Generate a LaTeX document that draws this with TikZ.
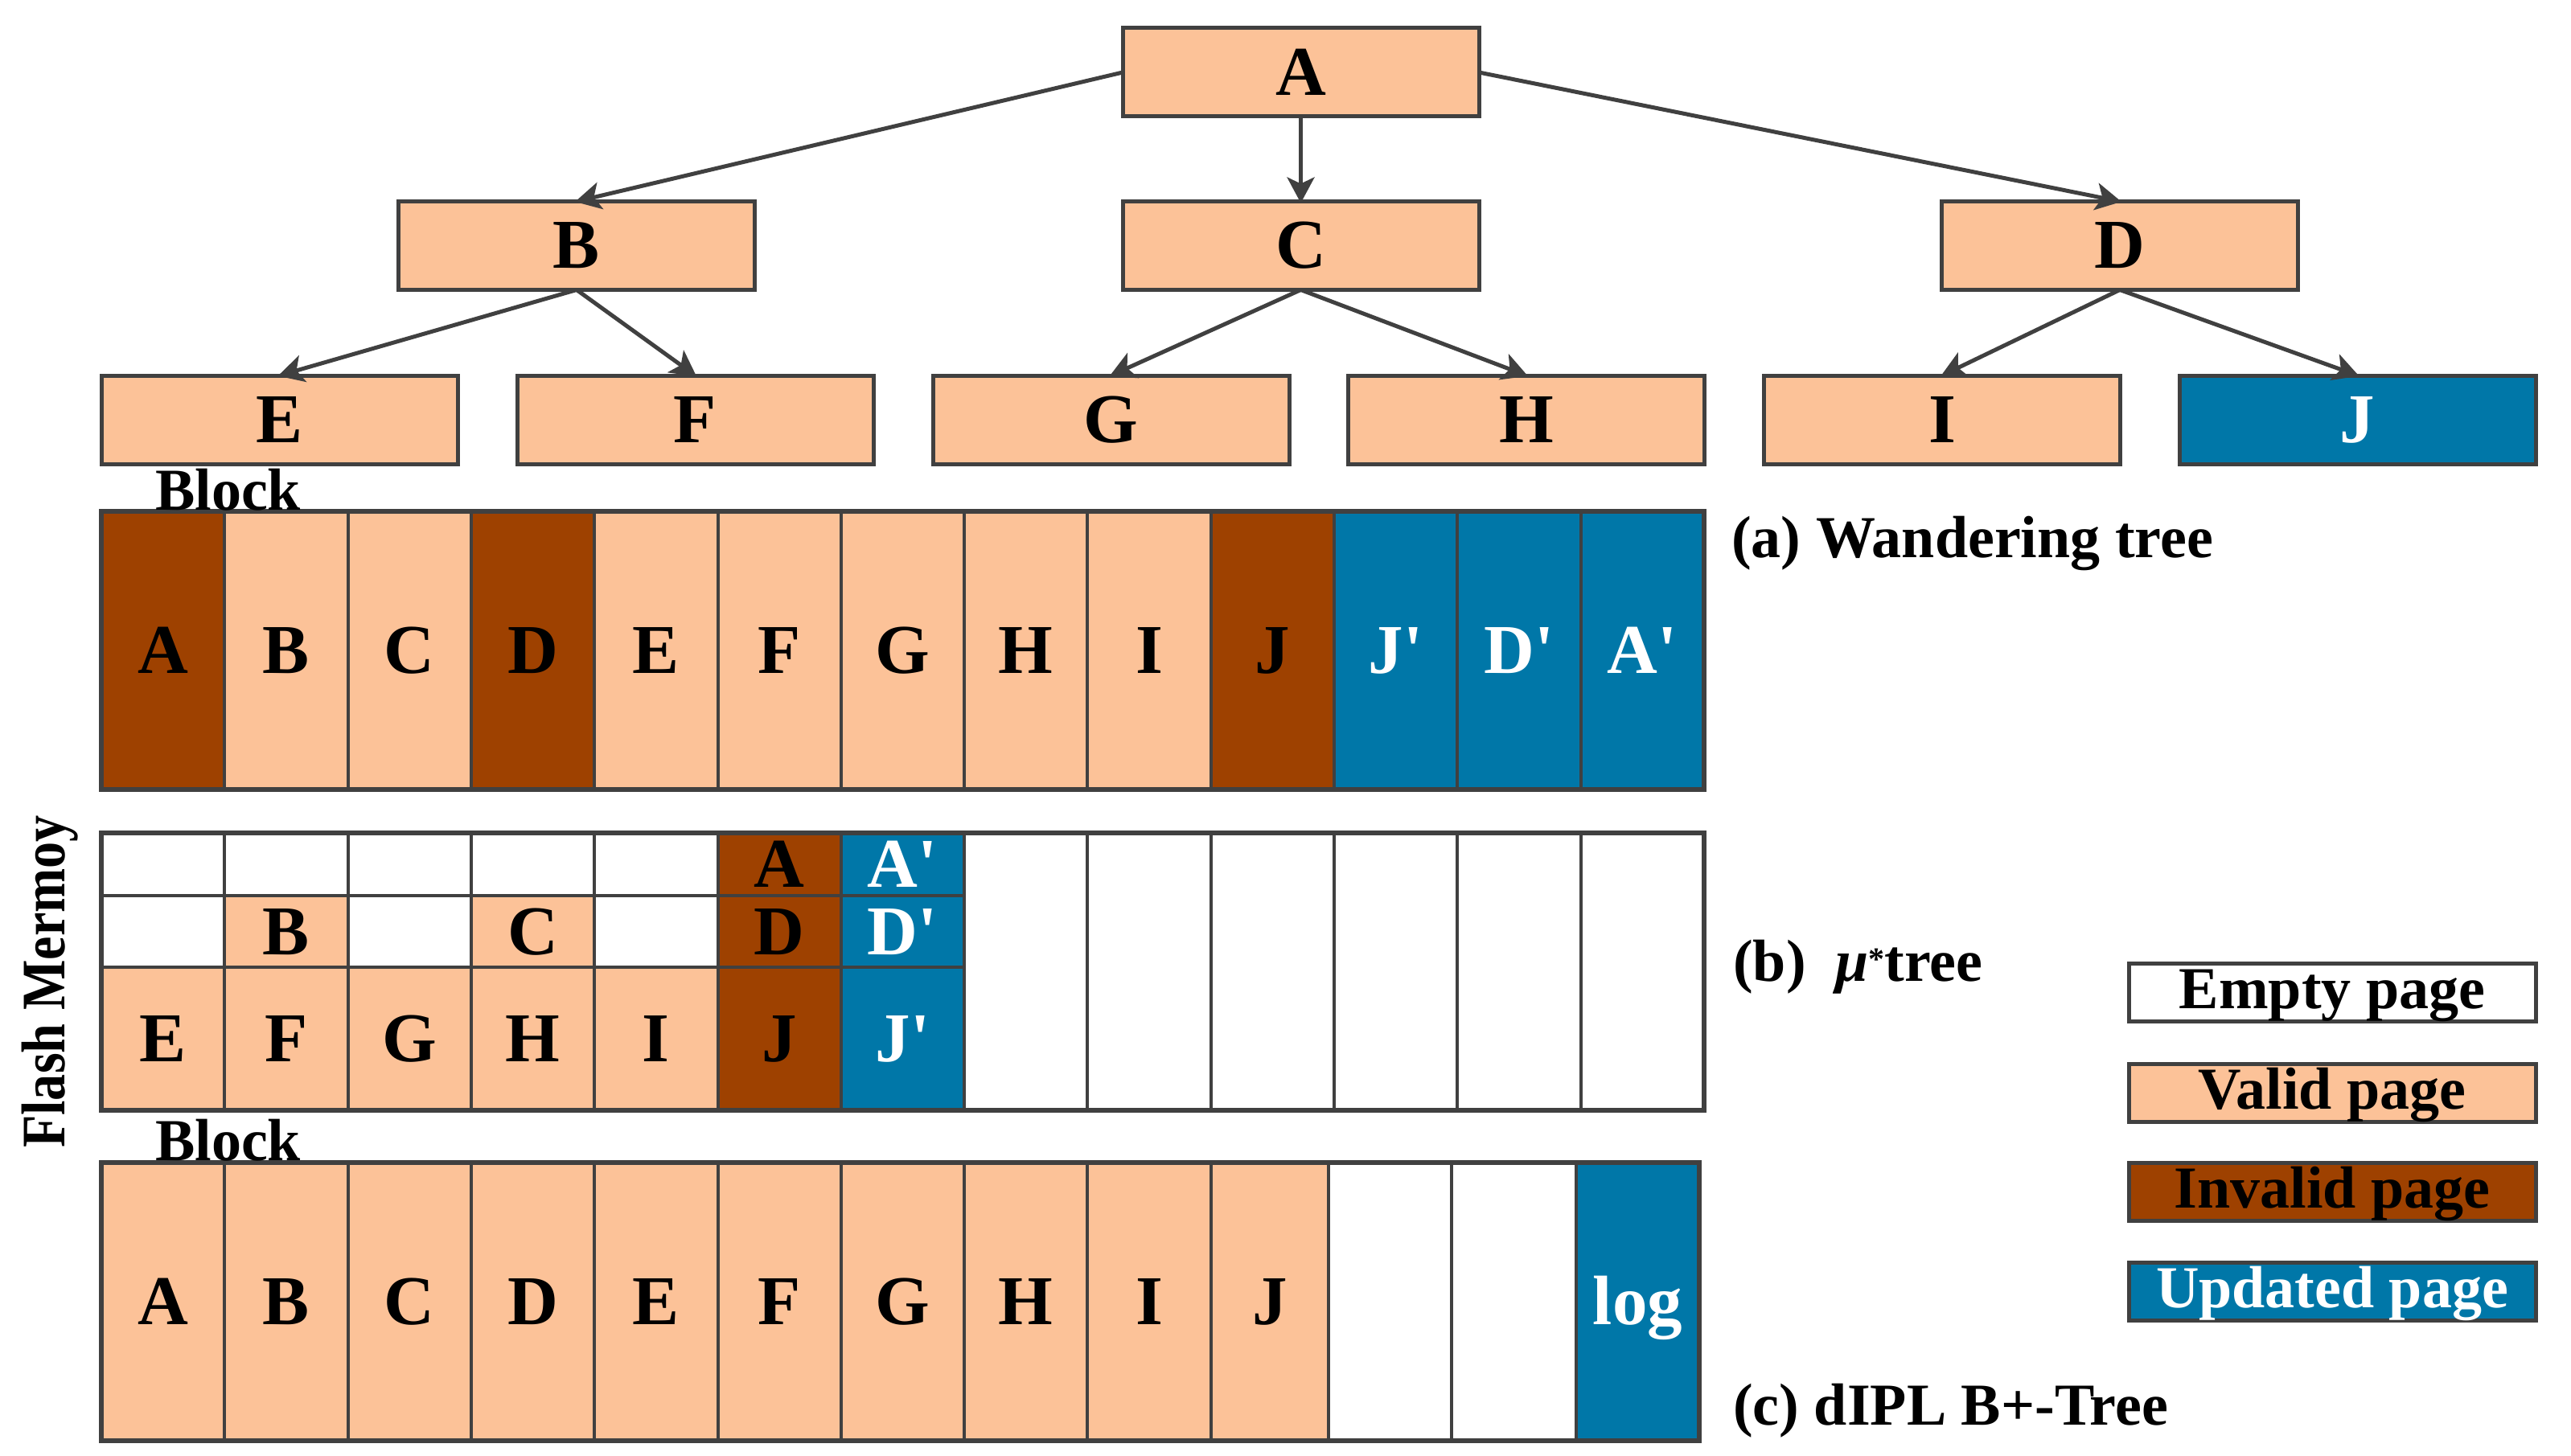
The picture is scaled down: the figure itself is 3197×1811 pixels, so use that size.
\documentclass[tikz,border=0pt]{standalone}
\usepackage{fontspec}
\setmainfont{Liberation Serif}
\usetikzlibrary{arrows.meta}
\definecolor{valid}{HTML}{FCC298}
\definecolor{invalid}{HTML}{9E4100}
\definecolor{updated}{HTML}{0077A8}
\definecolor{edge}{HTML}{404040}
\begin{document}
\begin{tikzpicture}[x=1pt,y=-1pt,
  treenode/.style={draw=edge, line width=5pt, fill=valid, minimum width=443pt, minimum height=110pt,
    inner sep=0pt, outer sep=0pt, font=\fontsize{87}{87}\selectfont\bfseries, text height=57pt, text depth=0pt},
  arr/.style={draw=edge, line width=5pt, -{Stealth[length=32pt,width=34pt,inset=8pt]}, shorten >=-2pt},
  cell/.style={draw=edge, line width=4pt, inner sep=0pt, outer sep=0pt,
    font=\fontsize{87}{87}\selectfont\bfseries, text height=57pt, text depth=0pt},
  outerb/.style={draw=edge, line width=5.5pt},
  lab/.style={font=\fontsize{74}{74}\selectfont\bfseries, inner sep=0pt, anchor=base west},
  legbox/.style={draw=edge, line width=5pt, minimum width=506pt, minimum height=72pt, inner sep=0pt,
    font=\fontsize{74}{74}\selectfont\bfseries, text height=50pt, text depth=10pt}
]
\useasboundingbox (0,0) rectangle (3197,1811);

% ---------------- tree ----------------
\node[treenode] (A) at (1617.5,90) {A};
\node[treenode] (B) at (717,305.5) {B};
\node[treenode] (C) at (1617.5,305.5) {C};
\node[treenode] (D) at (2636,305.5) {D};
\node[treenode] (E) at (347.5,522) {E};
\node[treenode] (F) at (864.5,522) {F};
\node[treenode] (G) at (1381.5,522) {G};
\node[treenode] (H) at (1898,522) {H};
\node[treenode] (I) at (2415,522) {I};
\node[treenode, fill=updated, text=white] (J) at (2931.5,522) {J};

\draw[arr] (A.west) -- (B.north);
\draw[arr] (A.south) -- (C.north);
\draw[arr] (A.east) -- (D.north);
\draw[arr] (B.south) -- (E.north);
\draw[arr] (B.south) -- (F.north);
\draw[arr] (C.south) -- (G.north);
\draw[arr] (C.south) -- (H.north);
\draw[arr] (D.south) -- (I.north);
\draw[arr] (D.south) -- (J.north);

% ---------------- block (a) ----------------
\foreach \i/\t/\c/\tc in {0/A/invalid/black,1/B/valid/black,2/C/valid/black,3/D/invalid/black,
  4/E/valid/black,5/F/valid/black,6/G/valid/black,7/H/valid/black,8/I/valid/black,9/J/invalid/black,
  10/J\textquotesingle/updated/white,11/D\textquotesingle/updated/white,12/A\textquotesingle/updated/white}{
  \node[cell, fill=\c, text=\tc, minimum width=153.3pt, minimum height=346pt] (a\i) at ({126+153.3*(\i+0.5)},809) {\t};
}
\draw[outerb] (a0.north west) rectangle (a12.south east);
\node[lab] (blocka) at (193,634) {Block};
\node[lab] (laba) at (2153,693) {(a) Wandering tree};

% ---------------- block (b) ----------------
\foreach \i/\t/\c/\tc in {0//white/black,1//white/black,2//white/black,3//white/black,4//white/black,
  5/A/invalid/black,6/A\textquotesingle/updated/white}{
  \node[cell, fill=\c, text=\tc, minimum width=153.3pt, minimum height=78pt] (b1-\i) at ({126+153.3*(\i+0.5)},1075) {\t};
}
\foreach \i/\t/\c/\tc in {0//white/black,1/B/valid/black,2//white/black,3/C/valid/black,4//white/black,
  5/D/invalid/black,6/D\textquotesingle/updated/white}{
  \node[cell, fill=\c, text=\tc, minimum width=153.3pt, minimum height=89pt] (b2-\i) at ({126+153.3*(\i+0.5)},1158.5) {\t};
}
\foreach \i/\t/\c/\tc in {0/E/valid/black,1/F/valid/black,2/G/valid/black,3/H/valid/black,4/I/valid/black,
  5/J/invalid/black,6/J\textquotesingle/updated/white}{
  \node[cell, fill=\c, text=\tc, minimum width=153.3pt, minimum height=178pt] (b3-\i) at ({126+153.3*(\i+0.5)},1292) {\t};
}
\foreach \i in {7,...,12}{
  \node[cell, fill=white, minimum width=153.3pt, minimum height=345pt] (bf-\i) at ({126+153.3*(\i+0.5)},1208.5) {};
}
\draw[outerb] (b1-0.north west) rectangle (bf-12.south east);
\node[rotate=90, anchor=base, inner sep=0pt, font=\fontsize{77}{77}\selectfont\bfseries] (flash) at (80,1221)
  {\scalebox{0.86}[1]{Flash Mermoy}};
\node[lab] (labb) at (2155,1220) {(b)\ \ {\itshape μ}\raisebox{14pt}{\fontsize{40}{40}\selectfont *}tree};

% ---------------- block (c) ----------------
\foreach \i/\l/\r/\t/\c/\tc in {0/126/279.3/A/valid/black,1/279.3/432.6/B/valid/black,2/432.6/585.9/C/valid/black,
  3/585.9/739.2/D/valid/black,4/739.2/892.5/E/valid/black,5/892.5/1045.8/F/valid/black,
  6/1045.8/1199.1/G/valid/black,7/1199.1/1352.4/H/valid/black,8/1352.4/1505.7/I/valid/black,
  9/1505.7/1652/J/valid/black,10/1652/1805//white/black,11/1805/1960//white/black,12/1960/2113/log/updated/white}{
  \pgfmathsetmacro\w{\r-\l}
  \node[cell, fill=\c, text=\tc, minimum width=\w pt, minimum height=346pt] (c\i) at ({(\l+\r)/2},1619) {\t};
}
\draw[outerb] (c0.north west) rectangle (c12.south east);
\node[lab] (blockc) at (193,1443) {Block};
\node[lab] (labc) at (2155,1772) {(c) dIPL B+-Tree};

% ---------------- legend ----------------
\node[legbox, fill=white] (lempty) at (2900,1234) {Empty page};
\node[legbox, fill=valid] (lvalid) at (2900,1359.5) {Valid page};
\node[legbox, fill=invalid] (linvalid) at (2900,1482) {Invalid page};
\node[legbox, fill=updated, text=white] (lupd) at (2900,1606) {Updated page};
\end{tikzpicture}
\end{document}
